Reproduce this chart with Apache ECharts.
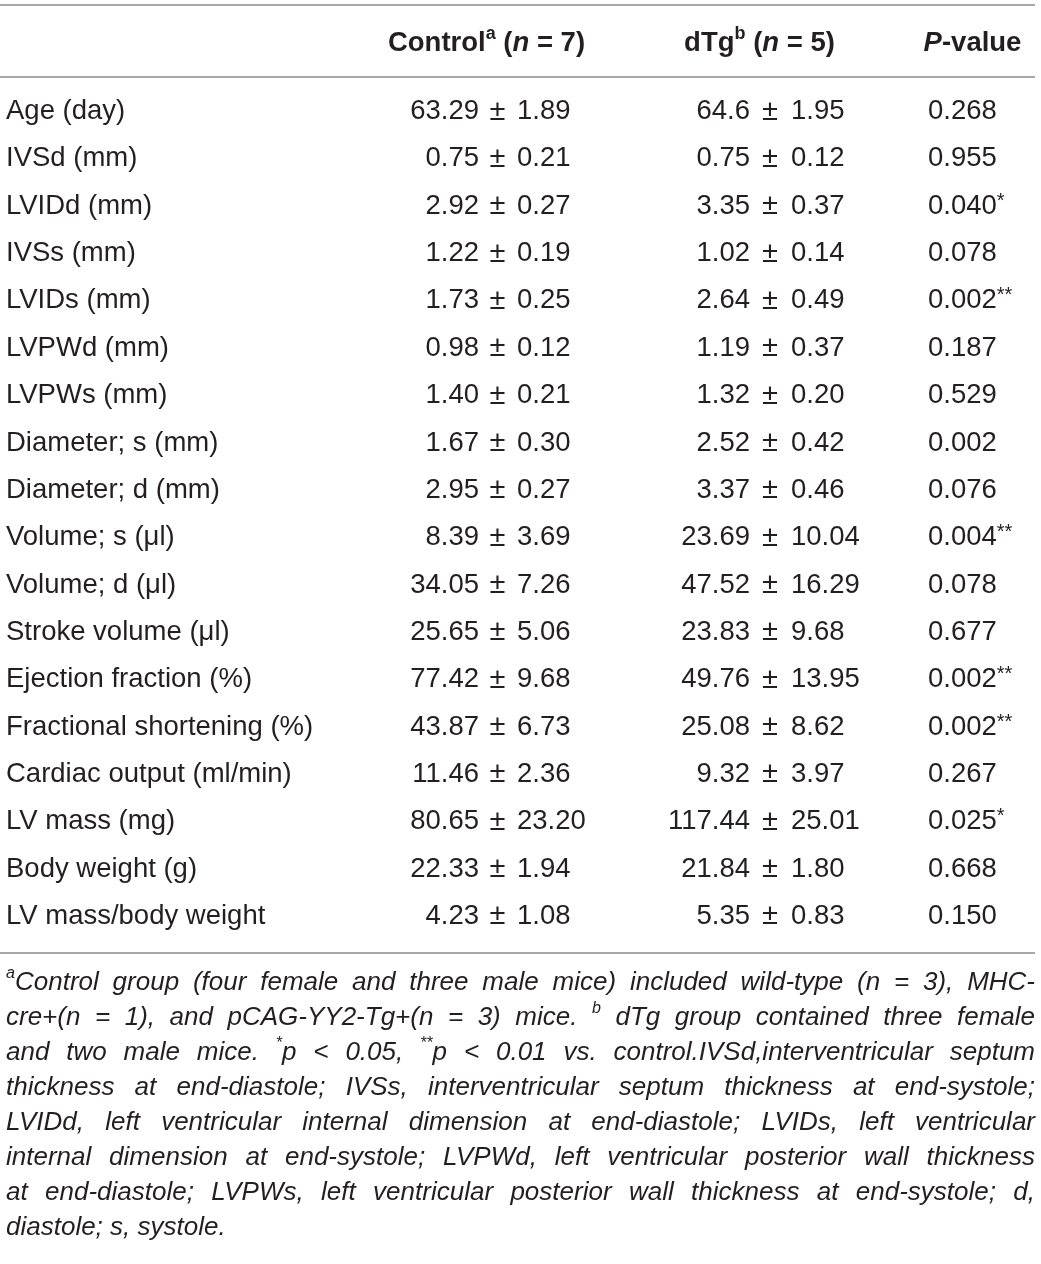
<!DOCTYPE html>
<html lang="en">
<head>
<meta charset="UTF-8">
<title>Echocardiography table</title>
<script src="https://cdn.jsdelivr.net/npm/echarts@6/dist/echarts.min.js"></script>
<style>
  html, body { margin: 0; padding: 0; background: #fff; }
  #main { width: 1041px; height: 1264px; }
</style>
</head>
<body>
<div id="main"></div>
<script>
// table content
const rowLabels = ['Age (day)', 'IVSd (mm)', 'LVIDd (mm)', 'IVSs (mm)', 'LVIDs (mm)', 'LVPWd (mm)',
  'LVPWs (mm)', 'Diameter; s (mm)', 'Diameter; d (mm)', 'Volume; s (μl)', 'Volume; d (μl)',
  'Stroke volume (μl)', 'Ejection fraction (%)', 'Fractional shortening (%)',
  'Cardiac output (ml/min)', 'LV mass (mg)', 'Body weight (g)', 'LV mass/body weight'];
const controlMean = ['63.29', '0.75', '2.92', '1.22', '1.73', '0.98', '1.40', '1.67', '2.95',
  '8.39', '34.05', '25.65', '77.42', '43.87', '11.46', '80.65', '22.33', '4.23'];
const controlSd = ['1.89', '0.21', '0.27', '0.19', '0.25', '0.12', '0.21', '0.30', '0.27',
  '3.69', '7.26', '5.06', '9.68', '6.73', '2.36', '23.20', '1.94', '1.08'];
const dtgMean = ['64.6', '0.75', '3.35', '1.02', '2.64', '1.19', '1.32', '2.52', '3.37',
  '23.69', '47.52', '23.83', '49.76', '25.08', '9.32', '117.44', '21.84', '5.35'];
const dtgSd = ['1.95', '0.12', '0.37', '0.14', '0.49', '0.37', '0.20', '0.42', '0.46',
  '10.04', '16.29', '9.68', '13.95', '8.62', '3.97', '25.01', '1.80', '0.83'];
const pValues = ['0.268', '0.955', '0.040', '0.078', '0.002', '0.187', '0.529', '0.002', '0.076',
  '0.004', '0.078', '0.677', '0.002', '0.002', '0.267', '0.025', '0.668', '0.150'];
const pMarks = ['', '', '*', '', '**', '', '', '', '', '**', '', '', '**', '**', '', '*', '', ''];

// header cells: [text, style]  b = bold, i = italic, s = superscript
const headControl = [['Control', 'b'], ['a', 'bs'], [' (', 'b'], ['n', 'bi'], [' = 7)', 'b']];
const headDtg = [['dTg', 'b'], ['b', 'bs'], [' (', 'b'], ['n', 'bi'], [' = 5)', 'b']];
const headP = [['P', 'bi'], ['-value', 'b']];

// footnote, one entry per printed line, {..} = superscript
const noteLines = [
  '{a}Control group (four female and three male mice) included wild-type (n = 3), MHC-',
  'cre+(n = 1), and pCAG-YY2-Tg+(n = 3) mice. {b} dTg group contained three female',
  'and two male mice. {*}p < 0.05, {**}p < 0.01 vs. control.IVSd,interventricular septum',
  'thickness at end-diastole; IVSs, interventricular septum thickness at end-systole;',
  'LVIDd, left ventricular internal dimension at end-diastole; LVIDs, left ventricular',
  'internal dimension at end-systole; LVPWd, left ventricular posterior wall thickness',
  'at end-diastole; LVPWs, left ventricular posterior wall thickness at end-systole; d,',
  'diastole; s, systole.'
];

const FAMILY = '"Liberation Sans", Arial, Helvetica, sans-serif';
const INK = '#231f20';
const RULE = '#a7a7a7';
const FS = 27.5;
const ROW0 = 111.5, ROW_H = 47.35;

// column anchors
const CTRL_MEAN_R = 479, CTRL_PM = 497.5, CTRL_SD_L = 517;
const DTG_MEAN_R = 750, DTG_PM = 770, DTG_SD_L = 791;
const P_L = 928;

const ctx = document.createElement('canvas').getContext('2d');
function fontOf(style, size) {
  return (style.indexOf('i') >= 0 ? 'italic ' : '') + (style.indexOf('b') >= 0 ? 'bold ' : '') +
    size + 'px ' + FAMILY;
}
function measure(str, font) {
  ctx.font = font;
  return ctx.measureText(str).width;
}

// lay a run of styled parts out from x, returns elements and width
function run(parts, x, y, size, supSize, supRaise) {
  const els = [];
  let cx = x;
  parts.forEach(([text, style]) => {
    const sup = style.indexOf('s') >= 0;
    const font = fontOf(style, sup ? supSize : size);
    els.push({
      type: 'text', x: cx, y: sup ? y - supRaise : y, silent: true,
      style: { text: text, font: font, fill: INK, textAlign: 'left', textVerticalAlign: 'middle',
        align: 'left', verticalAlign: 'middle' }
    });
    cx += measure(text, font);
  });
  return { els, width: cx - x };
}
function runWidth(parts, size, supSize) {
  return parts.reduce((w, [t, s]) => w + measure(t, fontOf(s, s.indexOf('s') >= 0 ? supSize : size)), 0);
}
function centered(parts, cx, y) {
  const w = runWidth(parts, FS, 18);
  return run(parts, cx - w / 2, y, FS, 18, 9).els;
}

// footnote words -> parts
function wordParts(word) {
  const parts = [];
  const re = /\{([^}]*)\}/g;
  let last = 0, m;
  while ((m = re.exec(word))) {
    if (m.index > last) parts.push([word.slice(last, m.index), 'i']);
    parts.push([m[1], 'is']);
    last = re.lastIndex;
  }
  if (last < word.length) parts.push([word.slice(last), 'i']);
  return parts;
}

const NOTE_L = 6, NOTE_R = 1035, NOTE_Y0 = 982.5, NOTE_LH = 35;
let noteSize = 26;
const widest = Math.max(...noteLines.map(l => runWidth(l.split(' ').flatMap(wordParts), 26, 16) +
  (l.split(' ').length - 1) * measure(' ', fontOf('i', 26))));
if (widest > NOTE_R - NOTE_L) noteSize = 26 * (NOTE_R - NOTE_L) / widest;
const noteSup = noteSize * 0.62;

const noteEls = [];
noteLines.forEach((line, li) => {
  const words = line.split(' ').map(wordParts);
  const widths = words.map(p => runWidth(p, noteSize, noteSup));
  const total = widths.reduce((a, b) => a + b, 0);
  const last = li === noteLines.length - 1;
  const gap = last ? measure(' ', fontOf('i', noteSize)) : (NOTE_R - NOTE_L - total) / (words.length - 1);
  const y = NOTE_Y0 + li * NOTE_LH;
  let x = NOTE_L;
  words.forEach((p, wi) => {
    noteEls.push(...run(p, x, y, noteSize, noteSup, noteSize * 0.36).els);
    x += widths[wi] + gap;
  });
});

function rule(y) {
  return { type: 'line', silent: true, shape: { x1: 0, y1: y, x2: 1035, y2: y },
    style: { stroke: RULE, lineWidth: 2 } };
}

const baseLabel = { show: true, color: INK, fontFamily: FAMILY, fontSize: FS, distance: 0 };
function cells(x, position, formatter, extra) {
  return {
    type: 'scatter', silent: true, symbolSize: 0, animation: false,
    itemStyle: { opacity: 1 },
    data: rowLabels.map((r, i) => [x, i]),
    label: Object.assign({}, baseLabel, { position: position, formatter: formatter }, extra || {})
  };
}

const chart = echarts.init(document.getElementById('main'));
chart.setOption({
  animation: false,
  grid: { left: 0, right: 0, top: ROW0 - ROW_H / 2, height: ROW_H * rowLabels.length },
  xAxis: { type: 'value', min: 0, max: 1041, show: false },
  yAxis: {
    type: 'category', inverse: true, data: rowLabels,
    axisLine: { show: false }, axisTick: { show: false }, splitLine: { show: false },
    axisLabel: { inside: true, margin: 6, align: 'left', interval: 0,
      color: INK, fontFamily: FAMILY, fontSize: FS }
  },
  series: [
    cells(CTRL_MEAN_R, 'left', p => controlMean[p.dataIndex]),
    cells(CTRL_PM, 'inside', () => '±', { fontSize: 29 }),
    cells(CTRL_SD_L, 'right', p => controlSd[p.dataIndex]),
    cells(DTG_MEAN_R, 'left', p => dtgMean[p.dataIndex]),
    cells(DTG_PM, 'inside', () => '±', { fontSize: 29 }),
    cells(DTG_SD_L, 'right', p => dtgSd[p.dataIndex]),
    cells(P_L, 'right', p => '{v|' + pValues[p.dataIndex] + '}' +
      (pMarks[p.dataIndex] ? '{s|' + pMarks[p.dataIndex] + '}' : ''), {
      rich: {
        v: { fontFamily: FAMILY, fontSize: FS, color: INK, lineHeight: 30 },
        s: { fontFamily: FAMILY, fontSize: 20, color: INK, lineHeight: 30, verticalAlign: 'top' }
      }
    })
  ],
  graphic: [
    rule(5), rule(77), rule(953),
    ...centered(headControl, 486.5, 43),
    ...centered(headDtg, 759.5, 43),
    ...centered(headP, 972.5, 43),
    ...noteEls
  ]
});
</script>
</body>
</html>
